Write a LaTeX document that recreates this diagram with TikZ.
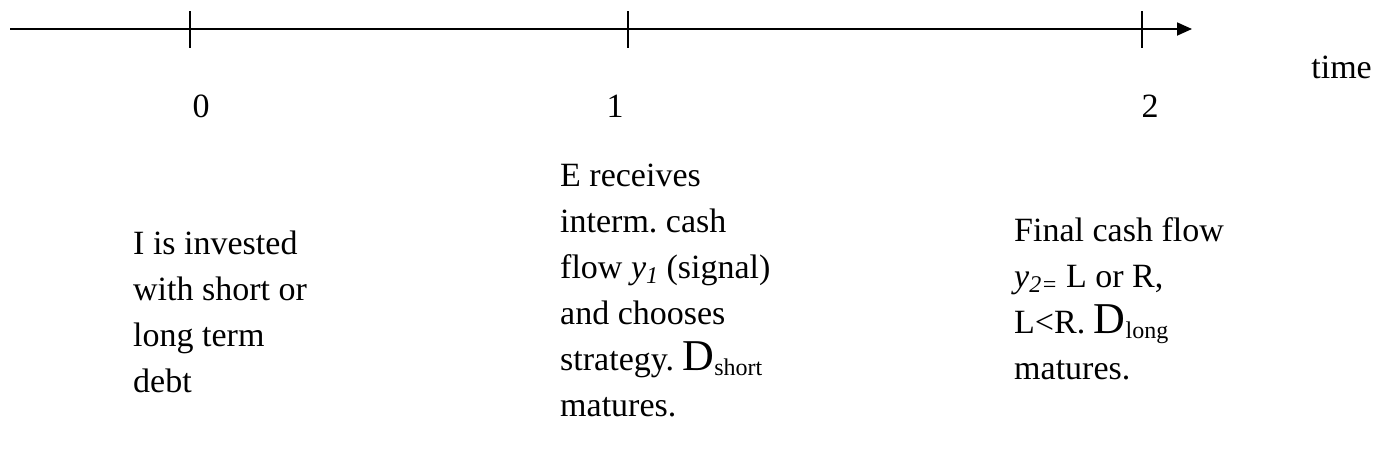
\documentclass[tikz,border=0pt]{standalone}
\usepackage{fontspec}
\setmainfont{Liberation Serif}
\usetikzlibrary{arrows.meta}
\frenchspacing
\newcommand{\bigD}{{\fontsize{44}{46}\selectfont D}}
\newcommand{\lowsub}[1]{\raisebox{-0.35ex}{\fontsize{24}{24}\selectfont #1}}
\begin{document}
\begin{tikzpicture}[x=1pt,y=-1pt,
  axis/.style={line width=1.8pt,-{Triangle[length=15pt,width=13pt]}},
  tick/.style={line width=1.3pt},
  lab/.style={inner sep=0pt,font=\fontsize{34}{46}\selectfont},
  block/.style={inner sep=0pt,anchor=base west,align=left,font=\fontsize{34}{46}\selectfont}]
\useasboundingbox (0,0) rectangle (1379,464);
\coordinate (start) at (10,29);
\coordinate (end) at (1192,29);
\draw[axis] (start) -- (end);
\coordinate (t0a) at (190,11); \coordinate (t0b) at (190,48);
\coordinate (t1a) at (628,11); \coordinate (t1b) at (628,48);
\coordinate (t2a) at (1142,11); \coordinate (t2b) at (1142,48);
\draw[tick] (t0a) -- (t0b);
\draw[tick] (t1a) -- (t1b);
\draw[tick] (t2a) -- (t2b);
\node[lab,anchor=base east] (time) at (1372,78) {time};
\node[lab,anchor=base] (l0) at (201,117) {0};
\node[lab,anchor=base] (l1) at (615,117) {1};
\node[lab,anchor=base] (l2) at (1150,117) {2};
\node[block] (b0) at (133,392) {I is invested\\with short or\\long term\\debt};
\node[block] (b1) at (560,416) {E receives\\interm. cash\\flow \textit{y}\lowsub{\textit{1}} (signal)\\and chooses\\strategy. \bigD\lowsub{short}\\matures.};
\node[block] (b2) at (1014,379) {Final cash flow\\\textit{y}\lowsub{\textit{2=}} L or R,\\L<R. \bigD\lowsub{long}\\matures.};
\end{tikzpicture}
\end{document}
